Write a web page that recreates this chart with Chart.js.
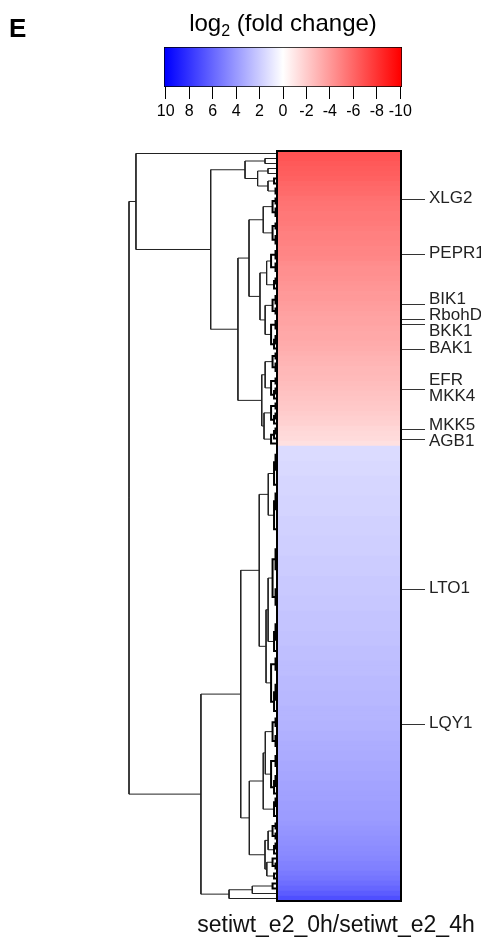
<!DOCTYPE html>
<html>
<head>
<meta charset="utf-8">
<script src="https://cdn.jsdelivr.net/npm/chart.js@4.4.0/dist/chart.umd.min.js"></script>
<style>
  html, body { margin: 0; padding: 0; background: #fff; }
  #wrap { position: relative; width: 481px; height: 939px; overflow: hidden; }
  canvas { position: absolute; left: 0; top: 0; }
</style>
</head>
<body>
<div id="wrap">
  <canvas id="keyChart" width="481" height="140"></canvas>
  <canvas id="treeChart" width="481" height="939"></canvas>
  <canvas id="heatChart" width="481" height="939"></canvas>
</div>
<script>
// log2 fold change per heatmap row, top to bottom
const rowValues = [
  -6.8, -6.7, -6.5, -6.4, -6.3, -6.2, -6.0, -5.9, -5.8, -5.6,
  -5.5, -5.4, -5.3, -5.3, -5.2, -5.1, -5.0, -5.0, -4.9, -4.8,
  -4.8, -4.7, -4.5, -4.4, -4.4, -4.3, -4.2, -4.1, -4.0, -4.0,
  -3.9, -3.8, -3.7, -3.6, -3.6, -3.5, -3.4, -3.4, -3.3, -3.2,
  -3.1, -3.0, -2.9, -2.8, -2.8, -2.7, -2.6, -2.5, -2.4, -2.3,
  -2.2, -2.1, -2.0, -1.9, -1.8, -1.6, -1.5, -1.4, -1.2,
  1.4, 1.4, 1.4, 1.5, 1.5, 1.5, 1.6, 1.6, 1.6, 1.6,
  1.7, 1.7, 1.7, 1.7, 1.8, 1.8, 1.8, 1.8, 1.9, 1.9,
  1.9, 1.9, 2.0, 2.0, 2.0, 2.0, 2.1, 2.1, 2.1, 2.1,
  2.2, 2.2, 2.2, 2.3, 2.3, 2.3, 2.3, 2.4, 2.4, 2.4,
  2.5, 2.5, 2.5, 2.6, 2.6, 2.6, 2.7, 2.7, 2.7, 2.8,
  2.8, 2.8, 2.9, 2.9, 2.9, 3.0, 3.0, 3.1, 3.1, 3.2,
  3.2, 3.3, 3.3, 3.4, 3.4, 3.5, 3.5, 3.6, 3.6, 3.7,
  3.7, 3.8, 3.8, 3.9, 3.9, 4.0, 4.1, 4.2, 4.3, 4.4,
  4.5, 4.6, 4.7, 4.9, 5.0, 5.2, 5.4, 5.7, 6.0, 6.4, 6.9
];

// upper dendrogram merges: [height, first row, split row, end row]
const treeNodes = [
  [100, 0, 59, 150],
  [95.3, 0, 1, 59],
  [44.8, 1, 9, 59],
  [21.6, 1, 3, 9],
  [8.1, 1, 2, 3],
  [13.1, 3, 5, 9],
  [6.1, 3, 4, 5],
  [6.1, 5, 7, 9],
  [26.4, 9, 40, 59],
  [18.9, 9, 19, 40],
  [9.3, 9, 14, 19],
  [11.5, 19, 28, 40],
  [10.3, 40, 50, 59],
  [51.4, 59, 146, 150],
  [32.4, 146, 149, 150],
  [16.7, 146, 148, 149],
  [24.5, 59, 113, 146],
  [12.0, 59, 77, 113],
  [5.9, 59, 68, 77],
  [7.4, 77, 101, 113],
  [18.7, 113, 134, 146],
  [9.3, 113, 129, 134],
  [8.1, 134, 141, 146]
];
// height units per unit of fold change for the small clusters below those
const linkScale = 10;

// colour key
const keyTicks = [10, 8, 6, 4, 2, 0, -2, -4, -6, -8, -10];
const keyRange = [-10.15, 10.15];
const keyTitleParts = ['log', '2', ' (fold change)'];
const panelLetter = 'E';

// labelled genes and the rows they sit on
const geneNames = ['XLG2', 'PEPR1', 'BIK1', 'RbohD', 'BKK1', 'BAK1', 'EFR', 'MKK4', 'MKK5', 'AGB1', 'LTO1', 'LQY1'];
const geneRows = [9, 20, 30, 33, 34, 39, 47, 47, 55, 57, 87, 114];
const columnName = 'setiwt_e2_0h/setiwt_e2_4h';

const FONT = "'Liberation Sans', Arial, sans-serif";
Chart.defaults.font.family = FONT;

// blue - white - red, like the key
function foldColour(v) {
    const t = Math.min(Math.abs(v) / 10, 1);
    const c = Math.round(255 * (1 - t));
    return v < 0 ? `rgb(255,${c},${c})` : `rgb(${c},${c},255)`;
}

// ---- dendrogram ----
const links = [];

function join(h, a, b) {
    links.push({ h: h, a: a, b: b });
    return { h: h, pos: (a.pos + b.pos) / 2 };
}

// complete linkage on neighbouring rows for the small clusters
function clusterRows(from, to, parentH) {
    let groups = [];
    for (let r = from; r < to; r++) {
        groups.push({ node: { h: 0, pos: r + 0.5 }, lo: rowValues[r], hi: rowValues[r] });
    }
    while (groups.length > 1) {
        let best = 0, bestD = Infinity;
        for (let i = 0; i < groups.length - 1; i++) {
            const d = Math.max(groups[i].hi, groups[i + 1].hi) - Math.min(groups[i].lo, groups[i + 1].lo);
            if (d < bestD - 1e-9) { bestD = d; best = i; }
        }
        const a = groups[best], b = groups[best + 1];
        let h = Math.min(bestD * linkScale, parentH * 0.85);
        h = Math.max(h, a.node.h, b.node.h);
        const node = join(h, a.node, b.node);
        groups.splice(best, 2, { node: node, lo: Math.min(a.lo, b.lo), hi: Math.max(a.hi, b.hi) });
    }
    return groups[0].node;
}

function buildTree(from, to, parentH) {
    if (to - from === 1) return { h: 0, pos: from + 0.5 };
    const hand = treeNodes.find(n => n[1] === from && n[3] === to);
    if (hand) {
        const left = buildTree(from, hand[2], hand[0]);
        const right = buildTree(hand[2], to, hand[0]);
        return join(hand[0], left, right);
    }
    return clusterRows(from, to, parentH);
}

buildTree(0, rowValues.length, 100);

// the leaf-level brackets are drawn heavier, they read as a dark fringe
const treeSets = links.map(l => ({
    data: [
        { x: l.a.h, y: l.a.pos },
        { x: l.h, y: l.a.pos },
        { x: l.h, y: l.b.pos },
        { x: l.b.h, y: l.b.pos }
    ],
    showLine: true,
    borderColor: l.h < 5 ? '#000' : '#222',
    borderWidth: l.h < 5 ? 2 : 1,
    pointRadius: 0,
    tension: 0,
    clip: false
}));

new Chart(document.getElementById('treeChart'), {
    type: 'scatter',
    data: { datasets: treeSets },
    options: {
        responsive: false,
        animation: false,
        events: [],
        layout: { padding: { left: 129, right: 204, top: 151, bottom: 38 } },
        plugins: { legend: { display: false }, tooltip: { enabled: false } },
        scales: {
            x: { type: 'linear', reverse: true, min: 0, max: 100, display: false },
            y: { type: 'linear', reverse: true, min: 0, max: rowValues.length, display: false }
        }
    }
});

// ---- heatmap column, gene labels ----
function spreadLabels(ys, gap) {
    let groups = ys.map(y => ({ sum: y, n: 1 }));
    let merged = true;
    while (merged) {
        merged = false;
        for (let i = 0; i < groups.length - 1; i++) {
            const a = groups[i], b = groups[i + 1];
            const aEnd = a.sum / a.n + (a.n - 1) / 2 * gap;
            const bStart = b.sum / b.n - (b.n - 1) / 2 * gap;
            if (bStart - aEnd < gap) {
                groups.splice(i, 2, { sum: a.sum + b.sum, n: a.n + b.n });
                merged = true;
                break;
            }
        }
    }
    const out = [];
    groups.forEach(g => {
        const c = g.sum / g.n;
        for (let k = 0; k < g.n; k++) out.push(c + (k - (g.n - 1) / 2) * gap);
    });
    return out;
}

const heatDecor = {
    id: 'heatDecor',
    afterDatasetsDraw(chart) {
        const { ctx, chartArea } = chart;
        const y = chart.scales.y;
        ctx.save();
        ctx.strokeStyle = '#000';
        ctx.lineWidth = 2;
        ctx.strokeRect(chartArea.left, chartArea.top, chartArea.right - chartArea.left, chartArea.bottom - chartArea.top);

        const tickYs = geneRows.map(r => y.getPixelForValue(r));
        const textYs = spreadLabels(tickYs, 16);
        ctx.lineWidth = 1;
        ctx.strokeStyle = '#333';
        ctx.fillStyle = '#222';
        ctx.font = '17px ' + FONT;
        ctx.textBaseline = 'middle';
        ctx.textAlign = 'left';
        geneNames.forEach((name, i) => {
            const ty = Math.round(tickYs[i]) + 0.5;
            ctx.beginPath();
            ctx.moveTo(chartArea.right + 1, ty);
            ctx.lineTo(chartArea.right + 24, ty);
            ctx.stroke();
            ctx.fillText(name, chartArea.right + 28, textYs[i]);
        });

        ctx.font = '23px ' + FONT;
        ctx.textAlign = 'center';
        ctx.textBaseline = 'alphabetic';
        ctx.fillStyle = '#111';
        ctx.fillText(columnName, (chartArea.left + chartArea.right) / 2 - 3, chartArea.bottom + 31);
        ctx.restore();
    }
};

new Chart(document.getElementById('heatChart'), {
    type: 'bar',
    data: {
        labels: rowValues.map((v, i) => i),
        datasets: [{
            data: rowValues.map(() => [0, 1]),
            backgroundColor: rowValues.map(foldColour),
            borderWidth: 0,
            barPercentage: 1,
            categoryPercentage: 1
        }]
    },
    options: {
        indexAxis: 'y',
        responsive: false,
        animation: false,
        events: [],
        layout: { padding: { left: 277, right: 80, top: 151, bottom: 38 } },
        plugins: { legend: { display: false }, tooltip: { enabled: false } },
        scales: {
            x: { type: 'linear', min: 0, max: 1, display: false },
            y: { display: false }
        }
    },
    plugins: [heatDecor]
});

// ---- colour key ----
function keyGradient(context) {
    const chart = context.chart;
    const x = chart.scales.x;
    if (!x || !chart.chartArea) return '#fff';
    const x0 = x.getPixelForValue(10), x1 = x.getPixelForValue(-10);
    if (!Number.isFinite(x0) || !Number.isFinite(x1)) return '#fff';
    const g = chart.ctx.createLinearGradient(x0, 0, x1, 0);
    g.addColorStop(0, foldColour(10));
    g.addColorStop(0.5, foldColour(0));
    g.addColorStop(1, foldColour(-10));
    return g;
}

const keyTitle = {
    id: 'keyTitle',
    afterDraw(chart) {
        const { ctx, chartArea } = chart;
        const big = '24px ' + FONT, small = '16px ' + FONT;
        ctx.save();
        ctx.fillStyle = '#000';
        ctx.textBaseline = 'alphabetic';
        ctx.textAlign = 'left';
        ctx.font = big;
        const w1 = ctx.measureText(keyTitleParts[0]).width;
        const w3 = ctx.measureText(keyTitleParts[2]).width;
        ctx.font = small;
        const w2 = ctx.measureText(keyTitleParts[1]).width;
        let x = (chartArea.left + chartArea.right) / 2 - (w1 + w2 + w3) / 2;
        ctx.font = big;
        ctx.fillText(keyTitleParts[0], x, 31);
        x += w1;
        ctx.font = small;
        ctx.fillText(keyTitleParts[1], x, 36);
        x += w2;
        ctx.font = big;
        ctx.fillText(keyTitleParts[2], x, 31);

        ctx.font = 'bold 26px ' + FONT;
        ctx.fillText(panelLetter, 9, 37);
        ctx.restore();
    }
};

const keyChart = new Chart(document.getElementById('keyChart'), {
    type: 'bar',
    data: {
        labels: ['key'],
        datasets: [{
            data: [keyRange],
            backgroundColor: keyGradient,
            borderColor: '#000',
            borderWidth: 1,
            borderSkipped: false,
            barPercentage: 1,
            categoryPercentage: 1
        }]
    },
    options: {
        indexAxis: 'y',
        responsive: false,
        animation: false,
        events: [],
        layout: { padding: { left: 164, right: 79, top: 47, bottom: 13 } },
        plugins: { legend: { display: false }, tooltip: { enabled: false } },
        scales: {
            x: {
                type: 'linear',
                reverse: true,
                min: keyRange[0],
                max: keyRange[1],
                afterBuildTicks: s => { s.ticks = keyTicks.map(v => ({ value: v })); },
                afterFit: s => { s.height = 40; },
                grid: { drawOnChartArea: false, tickLength: 12, color: '#000' },
                border: { display: false },
                ticks: { color: '#000', font: { size: 16 }, padding: 3, maxRotation: 0, autoSkip: false }
            },
            y: { display: false }
        }
    },
    plugins: [keyTitle]
});
keyChart.update();
</script>
</body>
</html>
